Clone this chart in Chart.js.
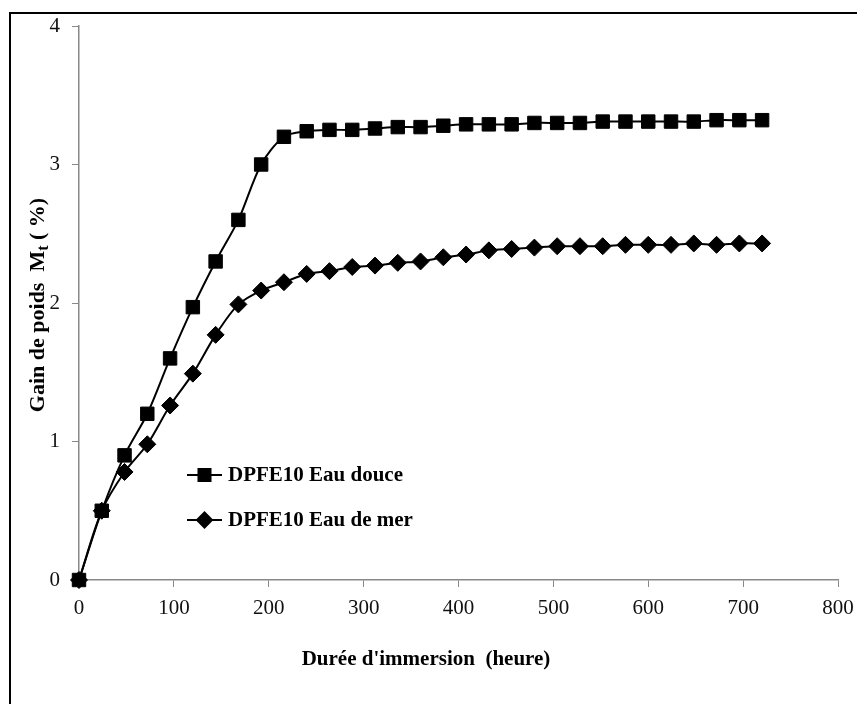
<!DOCTYPE html>
<html lang="fr">
<head>
<meta charset="UTF-8">
<title>Gain de poids</title>
<script src="https://cdn.jsdelivr.net/npm/chart.js"></script>
<style>
  body { margin: 0; background: #fff; }
  #frame { position: absolute; left: 9px; top: 12px; width: 900px; height: 760px;
           border-left: 2px solid #000; border-top: 2px solid #000; }
  #chart { position: absolute; left: 0; top: 0; }
</style>
</head>
<body>
<div id="frame"></div>
<canvas id="chart" width="857" height="704"></canvas>

<script>
// durée d'immersion (heures)
const hours = [0, 24, 48, 72, 96, 120, 144, 168, 192, 216, 240, 264, 288, 312, 336, 360,
               384, 408, 432, 456, 480, 504, 528, 552, 576, 600, 624, 648, 672, 696, 720];
// gain de poids Mt (%)
const eauDouce = [0, 0.50, 0.90, 1.20, 1.60, 1.97, 2.30, 2.60, 3.00, 3.20, 3.24, 3.25, 3.25, 3.26, 3.27, 3.27,
                  3.28, 3.29, 3.29, 3.29, 3.30, 3.30, 3.30, 3.31, 3.31, 3.31, 3.31, 3.31, 3.32, 3.32, 3.32];
const eauMer = [0, 0.50, 0.78, 0.98, 1.26, 1.49, 1.77, 1.99, 2.09, 2.15, 2.21, 2.23, 2.26, 2.27, 2.29, 2.30,
                2.33, 2.35, 2.38, 2.39, 2.40, 2.41, 2.41, 2.41, 2.42, 2.42, 2.42, 2.43, 2.42, 2.43, 2.43];
const seriesNames = ['DPFE10 Eau douce', 'DPFE10 Eau de mer'];
const xTicks = [0, 100, 200, 300, 400, 500, 600, 700, 800];
const yTicks = [0, 1, 2, 3, 4];

const serif = '"Liberation Serif", "Times New Roman", serif';

function toPoints(ys) {
  return hours.map((h, i) => ({ x: h, y: ys[i] }));
}

// titres des axes et légende dessinés dans le canvas
const extras = {
  id: 'extras',
  afterDraw(chart) {
    const ctx = chart.ctx;
    ctx.save();
    ctx.fillStyle = '#000';

    // titre axe x
    ctx.font = 'bold 21px ' + serif;
    ctx.textAlign = 'center';
    ctx.textBaseline = 'middle';
    ctx.fillText("Durée d'immersion  (heure)", 426, 660);

    // titre axe y avec indice
    ctx.translate(37, 305);
    ctx.rotate(-Math.PI / 2);
    const main = 'Gain de poids  M';
    const tail = ' ( %)';
    ctx.font = 'bold 22px ' + serif;
    const wMain = ctx.measureText(main).width;
    const wTail = ctx.measureText(tail).width;
    ctx.font = 'bold 16px ' + serif;
    const wSub = ctx.measureText('t').width;
    let x = -(wMain + wSub + wTail) / 2;
    ctx.textAlign = 'left';
    ctx.textBaseline = 'alphabetic';
    ctx.font = 'bold 22px ' + serif;
    ctx.fillText(main, x, 7);
    x += wMain;
    ctx.font = 'bold 16px ' + serif;
    ctx.fillText('t', x, 11);
    x += wSub;
    ctx.font = 'bold 22px ' + serif;
    ctx.fillText(tail, x, 7);
    ctx.restore();

    // légende
    ctx.save();
    const rows = [475, 520];
    chart.data.datasets.forEach((ds, i) => {
      const y = rows[i];
      ctx.strokeStyle = '#000';
      ctx.lineWidth = 2;
      ctx.beginPath();
      ctx.moveTo(187, y);
      ctx.lineTo(222, y);
      ctx.stroke();
      Chart.helpers.drawPoint(ctx, {
        pointStyle: ds.pointStyle,
        radius: ds.pointStyle === 'rect' ? 8.5 : 7.5,
        borderWidth: 1,
        rotation: 0
      }, 204.5, y);
      ctx.fillStyle = '#000';
      ctx.font = 'bold 21px ' + serif;
      ctx.textAlign = 'left';
      ctx.textBaseline = 'middle';
      ctx.fillText(ds.label, 228, y + 1);
    });
    ctx.restore();
  }
};

new Chart(document.getElementById('chart'), {
  type: 'line',
  data: {
    datasets: [
      {
        label: seriesNames[0],
        data: toPoints(eauDouce),
        borderColor: '#000',
        backgroundColor: '#000',
        borderWidth: 2,
        pointStyle: 'rect',
        pointRadius: 9.5,
        pointBorderWidth: 1,
        tension: 0.3,
        clip: false
      },
      {
        label: seriesNames[1],
        data: toPoints(eauMer),
        borderColor: '#000',
        backgroundColor: '#000',
        borderWidth: 2,
        pointStyle: 'rectRot',
        pointRadius: 8.5,
        pointBorderWidth: 1,
        tension: 0.3,
        clip: false
      }
    ]
  },
  options: {
    responsive: false,
    animation: false,
    events: [],
    layout: { padding: { left: 0, top: 26, right: 19, bottom: 0 } },
    plugins: { legend: { display: false }, tooltip: { enabled: false } },
    scales: {
      x: {
        type: 'linear',
        min: 0,
        max: 800,
        afterBuildTicks: (s) => { s.ticks = xTicks.map(v => ({ value: v })); },
        afterFit: (s) => { s.height = 124; s.paddingLeft = 0; s.paddingRight = 0; },
        ticks: { color: '#111', font: { family: serif, size: 21 }, padding: 9, maxRotation: 0 },
        grid: { drawOnChartArea: false, color: '#888', tickLength: 7 },
        border: { color: '#888', width: 1.5 }
      },
      y: {
        min: 0,
        max: 4,
        afterBuildTicks: (s) => { s.ticks = yTicks.map(v => ({ value: v })); },
        afterFit: (s) => { s.width = 79; s.paddingTop = 0; s.paddingBottom = 0; },
        ticks: { color: '#111', font: { family: serif, size: 21 }, padding: 12 },
        grid: { drawOnChartArea: false, color: '#888', tickLength: 7 },
        border: { color: '#888', width: 1.5 }
      }
    }
  },
  plugins: [extras]
});
</script>
</body>
</html>
